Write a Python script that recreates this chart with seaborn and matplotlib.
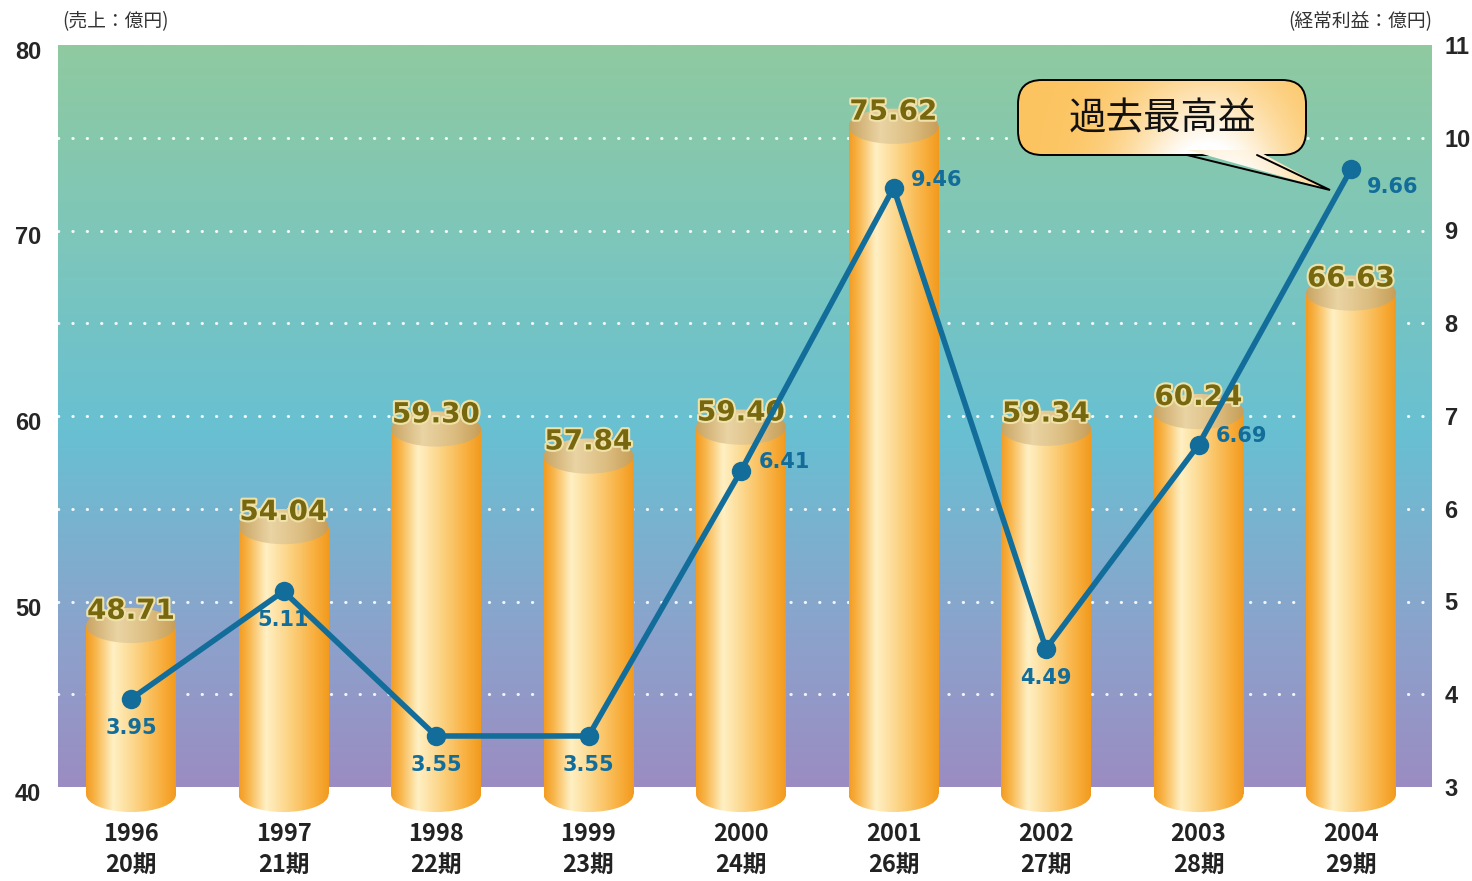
import numpy as np
import matplotlib
matplotlib.use("Agg")
import matplotlib.pyplot as plt
import matplotlib.patheffects as pe
import matplotlib.transforms as mtransforms
from matplotlib.colors import LinearSegmentedColormap
from matplotlib.patches import Rectangle, Ellipse, FancyBboxPatch, Polygon
import seaborn as sns

years = ["1996", "1997", "1998", "1999", "2000", "2001", "2002", "2003", "2004"]
periods = ["20期", "21期", "22期", "23期", "24期", "26期", "27期", "28期", "29期"]
sales = [48.71, 54.04, 59.30, 57.84, 59.40, 75.62, 59.34, 60.24, 66.63]
profit = [3.95, 5.11, 3.55, 3.55, 6.41, 9.46, 4.49, 6.69, 9.66]
# where each profit label sits: below the point or to its right
profit_label_pos = ["below", "below", "below", "below", "right", "right", "below", "right", "right_low"]

sns.set_style("white")
plt.rcParams["font.family"] = ["Noto Sans CJK JP", "DejaVu Sans"]

LINE_C = "#136d9a"
LABEL_C = "#776810"
W, H = 1472, 881
TOP_PX, BASE_PX, AX_BOTTOM_PX = 45, 787, 815   # 80 line, 40 line, bottom of drawing area

fig = plt.figure(figsize=(W / 100, H / 100), dpi=100)
ax = fig.add_axes([58 / W, 1 - AX_BOTTOM_PX / H, (1432 - 58) / W, (AX_BOTTOM_PX - TOP_PX) / H])
ax.set_facecolor("white")
ax2 = ax.twinx()

y_lo = 80 - 40 * (AX_BOTTOM_PX - TOP_PX) / (BASE_PX - TOP_PX)
y2_lo = 11 - 8 * (AX_BOTTOM_PX - TOP_PX) / (BASE_PX - TOP_PX)
x_lo, x_hi = -0.479, 8.531

# background gradient
bg_cmap = LinearSegmentedColormap.from_list(
    "bg", [(0, "#8fcaa0"), (0.28, "#7cc6bc"), (0.52, "#68c0d2"), (0.78, "#8aa4cc"), (1, "#9b8cc2")])
grad = np.linspace(0, 1, 256).reshape(-1, 1)
ax.imshow(grad, cmap=bg_cmap, extent=[x_lo, x_hi, 40, 80], aspect="auto", zorder=0, origin="upper")

# dotted gridlines
for v in range(45, 80, 5):
    ax.axhline(v, color="white", lw=2.2, ls=(0, (0.1, 4.6)), alpha=0.9, zorder=1,
               dash_capstyle="round")

# bars (positions and heights from seaborn), drawn as cylinders
sns.barplot(x=np.arange(len(sales)), y=sales, ax=ax, width=0.59, color="#f7a530", zorder=2)
body_cmap = LinearSegmentedColormap.from_list(
    "body", [(0, "#f39c22"), (0.1, "#f8b448"), (0.3, "#fff0c4"), (0.55, "#fcd486"),
             (0.85, "#f8ae3c"), (1, "#f29a1e")])
top_cmap = LinearSegmentedColormap.from_list(
    "top", [(0, "#c9a462"), (0.35, "#ead4a4"), (0.7, "#dcbd80"), (1, "#c79e58")])
hgrad = np.linspace(0, 1, 256).reshape(1, -1)

eh = 1.9
bottom_c = 39.6
for p in list(ax.patches):
    x0, w, h = p.get_x(), p.get_width(), p.get_height()
    p.set_visible(False)
    xc = x0 + w / 2
    top_c = h
    shapes = [
        (Rectangle((x0, bottom_c), w, top_c - bottom_c), body_cmap, [x0, x0 + w, bottom_c - eh, top_c]),
        (Ellipse((xc, bottom_c), w, eh), body_cmap, [x0, x0 + w, bottom_c - eh, top_c]),
        (Ellipse((xc, top_c), w, eh), top_cmap, [x0, x0 + w, top_c - eh, top_c + eh]),
    ]
    for shp, cm, ext in shapes:
        shp.set_transform(ax.transData)
        im = ax.imshow(hgrad, cmap=cm, extent=ext, aspect="auto", zorder=3, interpolation="bilinear")
        im.set_clip_path(shp)
    ax.annotate(f"{h:.2f}", (xc, h), xytext=(0, 10.5), textcoords="offset points",
                ha="center", va="center", fontsize=20, fontweight="bold", color=LABEL_C,
                family=["DejaVu Sans"], zorder=5,
                path_effects=[pe.withStroke(linewidth=3, foreground="#efe2a8")])

ax.set_xlim(x_lo, x_hi)
ax.set_ylim(y_lo, 80)
ax.set_yticks([40, 50, 60, 70, 80])
ax.set_yticklabels([str(v) for v in [40, 50, 60, 70, 80]], fontsize=17, fontweight="bold",
                   family=["Liberation Sans"])
ax.set_xticks(range(len(years)))
ax.set_xticklabels([f"{y}\n{p}" for y, p in zip(years, periods)], fontsize=17,
                   fontweight="bold", color="#222222", linespacing=1.38)
ax.tick_params(axis="both", length=0)
ax.tick_params(axis="x", pad=5)
ax.tick_params(axis="y", pad=12)
shift_down = mtransforms.ScaledTranslation(0, -5 / 100, fig.dpi_scale_trans)
for lab in ax.get_yticklabels():
    lab.set_transform(lab.get_transform() + shift_down)

# profit line
sns.lineplot(x=np.arange(len(profit)), y=profit, ax=ax2, color=LINE_C, lw=4, marker="o",
             markersize=14, markeredgewidth=0, zorder=6)
for i, (v, pos) in enumerate(zip(profit, profit_label_pos)):
    off = {"below": (0, -21), "right": (31, 6), "right_low": (30, -13)}[pos]
    ax2.annotate(f"{v:.2f}", (i, v), xytext=off, textcoords="offset points",
                 ha="center", va="center", fontsize=15, fontweight="bold", color=LINE_C,
                 family=["DejaVu Sans"], zorder=7)
ax2.set_ylim(y2_lo, 11)
ax2.set_yticks(range(3, 12))
ax2.set_yticklabels([str(v) for v in range(3, 12)], fontsize=17, fontweight="bold",
                    family=["Liberation Sans"])
ax2.tick_params(axis="y", length=0, pad=9)
ax2.set_ylabel("")

for a in (ax, ax2):
    for s in a.spines.values():
        s.set_visible(False)

# callout bubble, drawn on a full-figure overlay in pixel units
ov = fig.add_axes([0, 0, 1, 1], zorder=10)
ov.patch.set_visible(False)
ov.axis("off")


def bubble_grad(nx=240, ny=80):
    u = np.linspace(0, 1, nx)[None, :]
    v = np.linspace(0, 1, ny)[:, None]
    white = np.exp(-((u - 0.66) / 0.28) ** 2) * (0.35 + 0.65 * v)
    white = np.clip(white * 1.1, 0, 1)
    orange = np.array([252, 196, 96]) / 255
    return orange[None, None, :] * (1 - white[..., None]) + white[..., None]


bx0, bx1, by0, by1 = 1018, 1306, 80, 155
box = FancyBboxPatch((bx0, by0), bx1 - bx0, by1 - by0,
                     boxstyle="round,pad=0,rounding_size=24", transform=ov.transData)
im = ov.imshow(bubble_grad(), extent=[bx0, bx1, by1, by0], aspect="auto", zorder=1)
im.set_clip_path(box)
ov.add_patch(FancyBboxPatch((bx0, by0), bx1 - bx0, by1 - by0,
                            boxstyle="round,pad=0,rounding_size=24", fc="none", ec="black",
                            lw=1.4, zorder=2))
tail = Polygon([(1188, 150), (1256, 150), (1330, 190)], closed=True, transform=ov.transData)
im2 = ov.imshow(bubble_grad(), extent=[bx0, 1335, 192, by0], aspect="auto", zorder=3)
im2.set_clip_path(tail)
ov.plot([1187, 1330, 1257], [155, 190, 155], color="black", lw=1.4, zorder=4,
        solid_joinstyle="miter")
ov.text((bx0 + bx1) / 2, 119, "過去最高益", ha="center", va="center", fontsize=27,
        color="#111111", zorder=5)
ov.set_xlim(0, W)
ov.set_ylim(H, 0)

fig.text(62 / W, 1 - 22 / H, "(売上：億円)", fontsize=13.5, color="#333333", va="center")
fig.text(1432 / W, 1 - 22 / H, "(経常利益：億円)", fontsize=13.5, color="#333333",
         va="center", ha="right")

fig.savefig("out.png", dpi=100)
